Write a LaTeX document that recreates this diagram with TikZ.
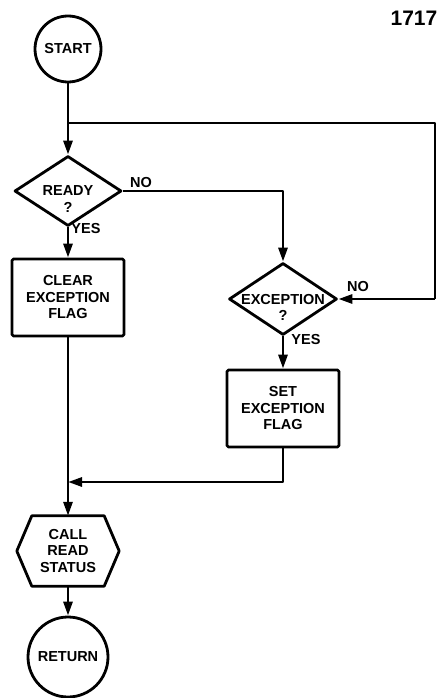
\documentclass[tikz,border=0pt]{standalone}
\usepackage{fontspec}
\setmainfont{Liberation Sans}
\usetikzlibrary{arrows.meta,shapes.geometric}
\begin{document}
\begin{tikzpicture}[x=1pt,y=-1pt,
  ln/.style={line width=2.8pt,line join=round},
  arr/.style={ln,-{Triangle[length=14pt,width=9pt]}},
  txt/.style={font=\bfseries\fontsize{14.5}{16.5}\selectfont,align=center,inner sep=0pt},
  term/.style={ln,draw,circle,inner sep=0pt,txt},
  proc/.style={ln,draw,rectangle,rounded corners=1.5pt,minimum width=112pt,minimum height=77pt,txt},
  dec/.style={ln,draw,diamond,inner sep=0pt},
  lbl/.style={font=\bfseries\fontsize{14.5}{16}\selectfont,inner sep=0pt}]
\useasboundingbox (0,0) rectangle (443,698);
\node[term,minimum size=66pt] (start) at (68,49) {START};
\node[font=\bfseries\fontsize{21}{24}\selectfont,inner sep=0pt] (num) at (414,18) {1717};
\node[dec,minimum width=107pt,minimum height=70pt] (ready) at (68,191) {};
\node[txt] (readyt) at (68,199) {READY\\?};
\node[proc] (clear) at (68,297.5) {CLEAR\\EXCEPTION\\FLAG};
\node[dec,minimum width=108pt,minimum height=72pt] (exc) at (283,299) {};
\node[txt] (exct) at (283,307.5) {EXCEPTION\\?};
\node[proc] (set) at (283,408.5) {SET\\EXCEPTION\\FLAG};
\node[minimum width=102pt,minimum height=70pt,inner sep=0pt,txt] (call) at (68,551) {CALL\\READ\\STATUS};
\draw[ln] ([xshift=15pt]call.north west) -- ([xshift=-15pt]call.north east) -- (call.east)
  -- ([xshift=-15pt]call.south east) -- ([xshift=15pt]call.south west) -- (call.west) -- cycle;
\node[term,minimum size=80pt] (ret) at (68,657) {RETURN};
\coordinate (loopj) at (68,123);
\coordinate (merge) at (68,482);
\coordinate (r1) at (435,123);
\coordinate (r2) at (435,299);
\draw[arr] (start.south) -- (ready.north);
\draw[ln] (loopj) -- (r1) -- (r2);
\draw[arr] (r2) -- (exc.east);
\draw[arr] (ready.east) -| (exc.north);
\draw[arr] (ready.south) -- (clear.north);
\draw[arr] (exc.south) -- (set.north);
\draw[arr] (set.south) |- (merge);
\draw[arr] (clear.south) -- (call.north);
\draw[arr] (call.south) -- (ret.north);
\node[lbl] (no1) at (141,183) {NO};
\node[lbl] (yes1) at (86,229) {YES};
\node[lbl] (no2) at (358,287) {NO};
\node[lbl] (yes2) at (306,340) {YES};
\end{tikzpicture}
\end{document}
